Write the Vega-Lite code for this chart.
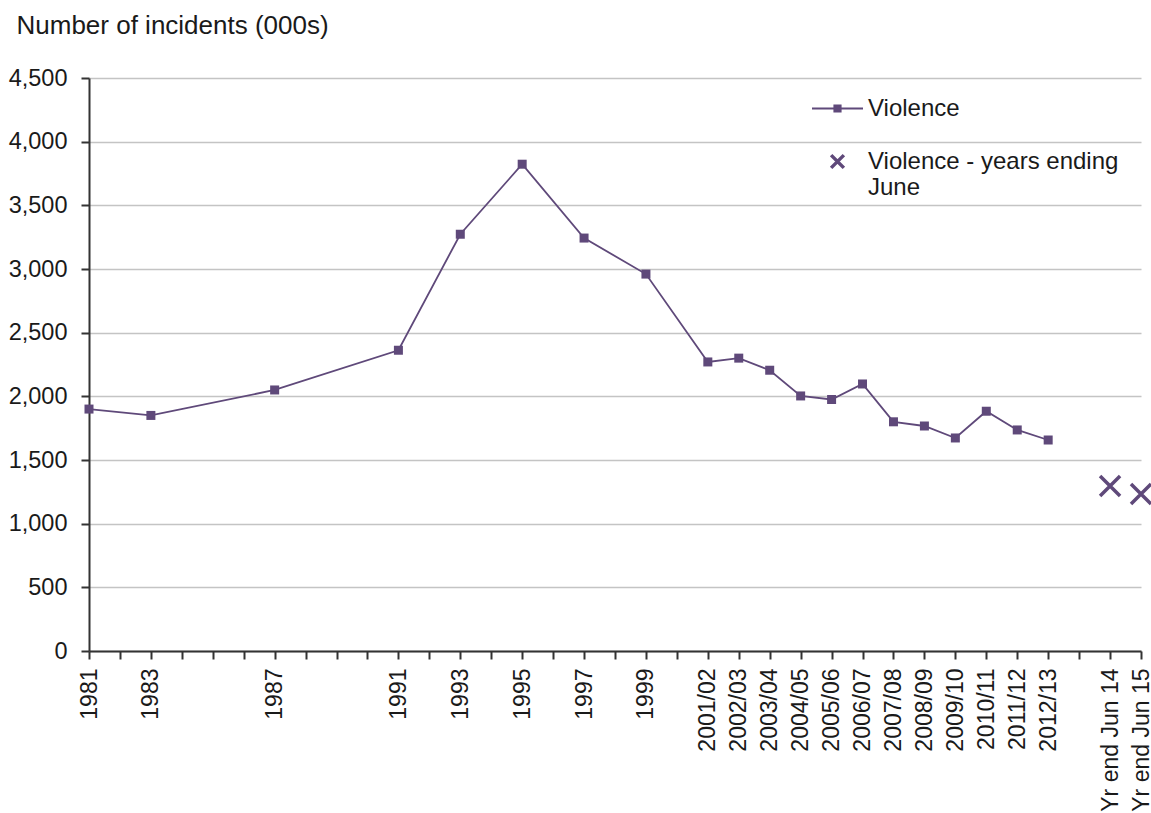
{
  "$schema": "https://vega.github.io/schema/vega-lite/v6.json",
  "width": 1052,
  "height": 573,
  "autosize": {"type": "none"},
  "padding": {"left": 89, "top": 78, "right": 10, "bottom": 162},
  "background": "white",
  "config": {"font": "Liberation Sans", "view": {"stroke": null}},
  "data": {
    "values": [
      {"period": "1981", "value": 1900, "series": "Violence"},
      {"period": "1983", "value": 1850, "series": "Violence"},
      {"period": "1987", "value": 2050, "series": "Violence"},
      {"period": "1991", "value": 2362, "series": "Violence"},
      {"period": "1993", "value": 3273, "series": "Violence"},
      {"period": "1995", "value": 3823, "series": "Violence"},
      {"period": "1997", "value": 3243, "series": "Violence"},
      {"period": "1999", "value": 2960, "series": "Violence"},
      {"period": "2001/02", "value": 2270, "series": "Violence"},
      {"period": "2002/03", "value": 2300, "series": "Violence"},
      {"period": "2003/04", "value": 2205, "series": "Violence"},
      {"period": "2004/05", "value": 2003, "series": "Violence"},
      {"period": "2005/06", "value": 1975, "series": "Violence"},
      {"period": "2006/07", "value": 2097, "series": "Violence"},
      {"period": "2007/08", "value": 1800, "series": "Violence"},
      {"period": "2008/09", "value": 1767, "series": "Violence"},
      {"period": "2009/10", "value": 1673, "series": "Violence"},
      {"period": "2010/11", "value": 1883, "series": "Violence"},
      {"period": "2011/12", "value": 1736, "series": "Violence"},
      {"period": "2012/13", "value": 1657, "series": "Violence"},
      {"period": "Yr end Jun 14", "value": 1296, "series": "Violence - years ending June"},
      {"period": "Yr end Jun 15", "value": 1233, "series": "Violence - years ending June"}
    ]
  },
  "encoding": {
    "x": {
      "field": "period",
      "type": "ordinal",
      "scale": {
        "type": "point",
        "padding": 0,
        "domain": ["1981", "_1982", "1983", "_1984", "_1985", "_1986", "1987", "_1988", "_1989", "_1990", "1991", "_1992", "1993", "_1994", "1995", "_1996", "1997", "_1998", "1999", "_2000", "2001/02", "2002/03", "2003/04", "2004/05", "2005/06", "2006/07", "2007/08", "2008/09", "2009/10", "2010/11", "2011/12", "2012/13", "_2013/14", "Yr end Jun 14", "Yr end Jun 15"]
      },
      "axis": {
        "title": null,
        "labelAngle": -90,
        "labelAlign": "right",
        "labelBaseline": "middle",
        "labelExpr": "indexof(datum.value, '_') == 0 ? '' : datum.value",
        "labelFontSize": 23,
        "labelColor": "#1a1a1a",
        "labelPadding": 9,
        "labelOverlap": false,
        "labelLimit": 0,
        "tickSize": 8,
        "tickWidth": 2,
        "tickColor": "#333333",
        "domainColor": "#333333",
        "domainWidth": 2,
        "grid": false
      }
    },
    "y": {
      "field": "value",
      "type": "quantitative",
      "scale": {"domain": [0, 4500], "nice": false},
      "axis": {
        "title": "Number of incidents (000s)",
        "titleAngle": 0,
        "titleAlign": "left",
        "titleBaseline": "alphabetic",
        "titleX": -73,
        "titleY": -45,
        "titleFontSize": 26,
        "titleFontWeight": "normal",
        "titleColor": "#1a1a1a",
        "values": [0, 500, 1000, 1500, 2000, 2500, 3000, 3500, 4000, 4500],
        "format": ",.0f",
        "labelFontSize": 23.5,
        "labelColor": "#1a1a1a",
        "labelPadding": 14,
        "tickSize": 8,
        "tickWidth": 2,
        "tickColor": "#333333",
        "domainColor": "#333333",
        "domainWidth": 2,
        "grid": true,
        "gridColor": "#c4c4c4",
        "gridWidth": 1.5
      }
    }
  },
  "layer": [
    {
      "transform": [{"filter": "datum.series == 'Violence'"}],
      "mark": {"type": "line", "color": "#5f497a", "strokeWidth": 1.8}
    },
    {
      "transform": [{"filter": "datum.series == 'Violence'"}],
      "mark": {"type": "point", "shape": "square", "filled": true, "size": 81, "color": "#5f497a", "opacity": 1}
    },
    {
      "transform": [{"filter": "datum.series != 'Violence'"}],
      "mark": {"type": "point", "shape": "M-1,-1L1,1M-1,1L1,-1", "filled": false, "size": 400, "strokeWidth": 3.5, "color": "#5f497a", "opacity": 1}
    },
    {
      "mark": {"type": "point", "filled": true, "color": "#5f497a", "opacity": 0},
      "encoding": {
        "shape": {
          "field": "series",
          "type": "nominal",
          "scale": {
            "domain": ["Violence", "Violence - years ending June"],
            "range": [
              "M-1,-0.04H1V0.04H-1Z M-0.16,-0.16H0.16V0.16H-0.16Z",
              "M-0.201,-0.299L0.299,0.201L0.201,0.299L-0.299,-0.201Z M-0.201,0.299L-0.299,0.201L0.201,-0.299L0.299,-0.201Z M-1,0L1,0L-1,0Z"
            ]
          },
          "legend": {
            "title": null,
            "orient": "none",
            "legendX": 723,
            "legendY": 5,
            "padding": 0,
            "symbolSize": 2601,
            "symbolStrokeWidth": 0,
            "symbolOpacity": 1,
            "symbolFillColor": "#5f497a",
            "labelOffset": 5,
            "rowPadding": 15,
            "labelFontSize": 24,
            "labelColor": "#1a1a1a",
            "labelLimit": 0,
            "labelExpr": "datum.label == 'Violence' ? 'Violence' : ['Violence - years ending', 'June']"
          }
        }
      }
    }
  ]
}
